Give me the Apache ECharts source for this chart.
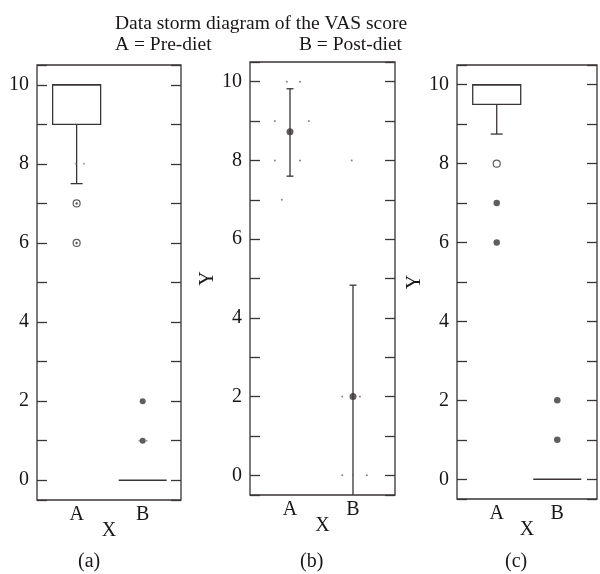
<!DOCTYPE html>
<html>
<head>
<meta charset="utf-8" />
<title>Data storm diagram of the VAS score</title>
<script src="https://cdn.jsdelivr.net/npm/echarts@6/dist/echarts.min.js"></script>
<style>
	html, body { margin: 0; padding: 0; background: #fff; }
	#main { width: 600px; height: 574px; }
</style>
</head>
<body>
<div id="main"></div>
<script type="text/javascript">
// ---- data ----
var catNames = ['A', 'B'];               // x = 1 -> A (pre-diet), x = 2 -> B (post-diet)
var yTicks = [0, 2, 4, 6, 8, 10];

// (a) box plot: [x, low whisker, Q1, median, Q3, high whisker]
var boxA = [[1, 7.5, 9, 10, 10, 10], [2, 0, 0, 0, 0, 0]];
var ringA = [[1, 7], [1, 6]];            // circled outliers
var dotA = [[2, 2], [2, 1]];             // filled outliers
var jitterA = [[1.11, 8], [0.985, 8], [1.95, 1], [2.06, 1]];

// (b) mean with error bar: [x, mean], [x, lower, upper]
var meanB = [[1, 8.73], [2, 2.0]];
var errB = [[1, 7.6, 9.82], [2, -0.83, 4.83]];
var jitterB = [[0.95, 10], [1.16, 10], [0.76, 9], [1.3, 9], [0.76, 8], [1.16, 8], [0.87, 7],
	[1.98, 8], [1.83, 2], [2.11, 2], [1.83, 0], [2.0, 0], [2.22, 0]];

// (c) box plot
var boxC = [[1, 8.75, 9.5, 10, 10, 10], [2, 0, 0, 0, 0, 0]];
var openC = [[1, 8]];
var dotC = [[1, 7], [1, 6], [2, 2], [2, 1]];

// ---- style ----
var INK = '#3b3434';
var TXT = '#1a1616';
var FONT = 'Liberation Serif';
var BOX_W = 48;

var myChart = echarts.init(document.getElementById('main'));

function renderBox(params, api) {
	var x = api.value(0);
	var lo = api.coord([x, api.value(1)]);
	var q1 = api.coord([x, api.value(2)]);
	var md = api.coord([x, api.value(3)]);
	var q3 = api.coord([x, api.value(4)]);
	var hi = api.coord([x, api.value(5)]);
	var hw = BOX_W / 2, cw = 6;
	var st = { stroke: INK, lineWidth: 1.3, fill: null };
	var kids = [];
	if (Math.abs(q1[1] - q3[1]) > 0.5) {
		kids.push({ type: 'rect', shape: { x: q1[0] - hw, y: q3[1], width: hw * 2, height: q1[1] - q3[1] }, style: st });
	}
	kids.push({ type: 'line', shape: { x1: md[0] - hw, y1: md[1], x2: md[0] + hw, y2: md[1] }, style: st });
	if (Math.abs(lo[1] - q1[1]) > 0.5) {
		kids.push({ type: 'line', shape: { x1: lo[0], y1: q1[1], x2: lo[0], y2: lo[1] }, style: st });
		kids.push({ type: 'line', shape: { x1: lo[0] - cw, y1: lo[1], x2: lo[0] + cw, y2: lo[1] }, style: st });
	}
	if (Math.abs(hi[1] - q3[1]) > 0.5) {
		kids.push({ type: 'line', shape: { x1: hi[0], y1: q3[1], x2: hi[0], y2: hi[1] }, style: st });
		kids.push({ type: 'line', shape: { x1: hi[0] - cw, y1: hi[1], x2: hi[0] + cw, y2: hi[1] }, style: st });
	}
	return { type: 'group', children: kids };
}

function renderErr(params, api) {
	var x = api.value(0);
	var lo = api.coord([x, api.value(1)]);
	var hi = api.coord([x, api.value(2)]);
	var cw = 3.5;
	var st = { stroke: INK, lineWidth: 1.3 };
	return {
		type: 'group', children: [
			{ type: 'line', shape: { x1: lo[0], y1: lo[1], x2: hi[0], y2: hi[1] }, style: st },
			{ type: 'line', shape: { x1: lo[0] - cw, y1: lo[1], x2: lo[0] + cw, y2: lo[1] }, style: st },
			{ type: 'line', shape: { x1: hi[0] - cw, y1: hi[1], x2: hi[0] + cw, y2: hi[1] }, style: st }
		]
	};
}

function xAxis(gi, mn, mx) {
	return {
		type: 'value', gridIndex: gi, min: mn, max: mx, splitNumber: 2,
		name: 'X', nameLocation: 'middle', nameGap: 21, nameMoveOverlap: false,
		nameTextStyle: { fontFamily: FONT, fontSize: 20, color: TXT },
		axisLine: { show: false }, axisTick: { show: false }, splitLine: { show: false },
		axisLabel: {
			margin: 5, fontFamily: FONT, fontSize: 20, color: TXT,
			formatter: function (v) { return v === 1 ? catNames[0] : (v === 2 ? catNames[1] : ''); }
		}
	};
}

function yAxes(gi, name) {
	var common = {
		type: 'value', gridIndex: gi, min: -0.5, max: 10.5, splitNumber: 11,
		axisLine: { show: false }, splitLine: { show: false },
		axisTick: { show: true, inside: true, length: 10, lineStyle: { color: INK, width: 1.3 } }
	};
	return [
		Object.assign({}, common, {
			position: 'left', name: name, nameLocation: 'middle', nameGap: 30, nameRotate: 90,
			nameTextStyle: { fontFamily: FONT, fontSize: 20, color: TXT },
			axisLabel: {
				margin: 8, fontFamily: FONT, fontSize: 20, color: TXT,
				formatter: function (v) { return yTicks.indexOf(v) >= 0 ? String(v) : ''; }
			}
		}),
		Object.assign({}, common, { position: 'right', axisLabel: { show: false } })
	];
}

var gridBase = { show: true, borderColor: INK, borderWidth: 1.3, backgroundColor: 'transparent' };
var titleStyle = { fontFamily: FONT, fontSize: 19.5, fontWeight: 'normal', color: TXT };

var option = {
	animation: false,
	backgroundColor: '#fff',
	title: [
		{ text: 'Data storm diagram of the VAS score', left: 110, top: 9, textStyle: titleStyle },
		{ text: 'A = Pre-diet', left: 110, top: 30, textStyle: titleStyle },
		{ text: 'B = Post-diet', right: 193, top: 30, textStyle: titleStyle }
	],
	grid: [
		Object.assign({ left: 37, top: 65, width: 144, height: 435 }, gridBase),
		Object.assign({ left: 250, top: 62, width: 145, height: 433 }, gridBase),
		Object.assign({ left: 457, top: 65, width: 141, height: 434 }, gridBase)
	],
	xAxis: [xAxis(0, 0.4, 2.58), xAxis(1, 0.365, 2.667), xAxis(2, 0.344, 2.656)],
	yAxis: [].concat(yAxes(0, ''), yAxes(1, 'Y'), yAxes(2, 'Y')),
	graphic: [
		{ type: 'text', left: 78, top: 552, style: { text: '(a)', font: '20px "Liberation Serif"', fill: TXT } },
		{ type: 'text', left: 300, top: 552, style: { text: '(b)', font: '20px "Liberation Serif"', fill: TXT } },
		{ type: 'text', left: 505, top: 552, style: { text: '(c)', font: '20px "Liberation Serif"', fill: TXT } }
	],
	series: [
		// (a)
		{ type: 'custom', xAxisIndex: 0, yAxisIndex: 0, renderItem: renderBox, data: boxA, clip: true },
		{ type: 'scatter', xAxisIndex: 0, yAxisIndex: 0, data: jitterA, symbolSize: 2, itemStyle: { color: '#888' } },
		{ type: 'scatter', xAxisIndex: 0, yAxisIndex: 0, data: ringA, symbolSize: 7, itemStyle: { color: '#fff', borderColor: INK, borderWidth: 1.2 } },
		{ type: 'scatter', xAxisIndex: 0, yAxisIndex: 0, data: ringA, symbolSize: 2.5, itemStyle: { color: INK } },
		{ type: 'scatter', xAxisIndex: 0, yAxisIndex: 0, data: dotA, symbolSize: 6, itemStyle: { color: INK } },
		// (b)
		{ type: 'scatter', xAxisIndex: 1, yAxisIndex: 2, data: jitterB, symbolSize: 2, itemStyle: { color: '#666' } },
		{ type: 'custom', xAxisIndex: 1, yAxisIndex: 2, renderItem: renderErr, data: errB, clip: true },
		{ type: 'scatter', xAxisIndex: 1, yAxisIndex: 2, data: meanB, symbolSize: 7, itemStyle: { color: INK } },
		// (c)
		{ type: 'custom', xAxisIndex: 2, yAxisIndex: 4, renderItem: renderBox, data: boxC, clip: true },
		{ type: 'scatter', xAxisIndex: 2, yAxisIndex: 4, data: openC, symbolSize: 7, itemStyle: { color: '#fff', borderColor: INK, borderWidth: 1.2 } },
		{ type: 'scatter', xAxisIndex: 2, yAxisIndex: 4, data: dotC, symbolSize: 6.5, itemStyle: { color: INK } }
	]
};
myChart.setOption(option);
</script>
</body>
</html>
